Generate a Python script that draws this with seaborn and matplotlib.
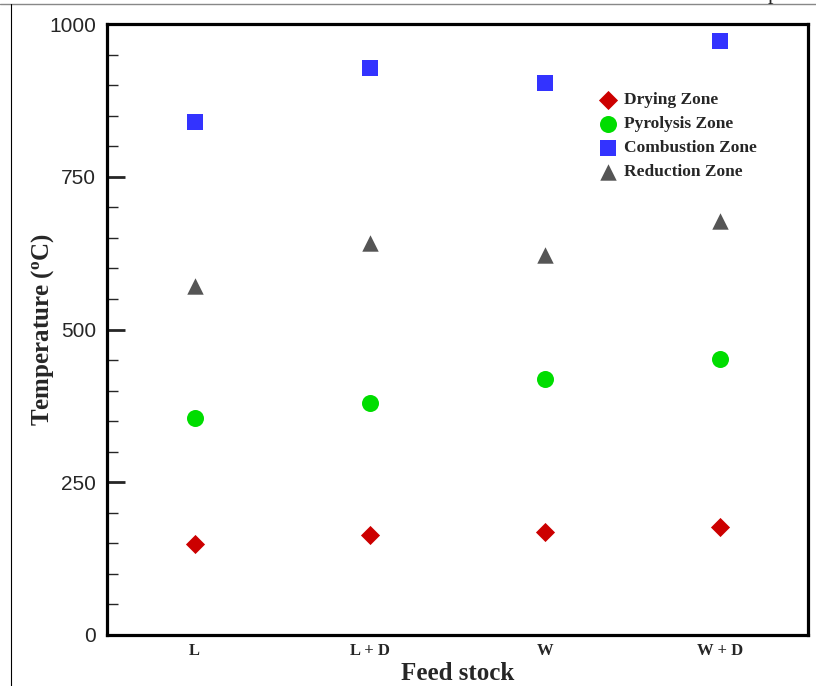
import pandas as pd
import matplotlib.pyplot as plt
import seaborn as sns
from matplotlib.ticker import MultipleLocator
from matplotlib.lines import Line2D

feedstock = ['L', 'L + D', 'W', 'W + D']
drying = [149, 164, 169, 177]
pyrolysis = [355, 380, 419, 452]
combustion = [840, 928, 903, 972]
reduction = [571, 641, 622, 678]

zones = ['Drying Zone', 'Pyrolysis Zone', 'Combustion Zone', 'Reduction Zone']

rows = []
for zone, vals in zip(zones, [drying, pyrolysis, combustion, reduction]):
    for f, v in zip(feedstock, vals):
        rows.append({'Feed stock': f, 'Temperature': v, 'Zone': zone})
df = pd.DataFrame(rows)

sns.set_style('white')
plt.rcParams['mathtext.fontset'] = 'custom'
plt.rcParams['mathtext.rm'] = 'Liberation Serif:bold'
plt.rcParams['mathtext.bf'] = 'Liberation Serif:bold'

palette = {'Drying Zone': '#cc0000', 'Pyrolysis Zone': '#00dd00',
           'Combustion Zone': '#3333ff', 'Reduction Zone': '#555555'}
markers = {'Drying Zone': 'D', 'Pyrolysis Zone': 'o',
           'Combustion Zone': 's', 'Reduction Zone': '^'}
sizes = {'Drying Zone': 95, 'Pyrolysis Zone': 150,
         'Combustion Zone': 125, 'Reduction Zone': 140}

fig = plt.figure(figsize=(8.16, 6.86), dpi=100)
ax = fig.add_axes([107/816, 1 - 635/686, (808-107)/816, (635-24)/686])

for zone in zones:
    sub = df[df['Zone'] == zone]
    sns.scatterplot(data=sub, x='Feed stock', y='Temperature', color=palette[zone],
                    marker=markers[zone], s=sizes[zone], linewidth=0, label=zone, ax=ax)

ax.set_xlim(-0.5, 3.5)
ax.set_ylim(0, 1000)
ax.yaxis.set_major_locator(MultipleLocator(250))
ax.yaxis.set_minor_locator(MultipleLocator(50))
ax.tick_params(axis='y', which='major', direction='in', length=13, width=2,
               labelsize=15, pad=8, left=True)
ax.tick_params(axis='y', which='minor', direction='in', length=8, width=1, left=True)
ax.tick_params(axis='x', which='both', length=0, pad=6)
for lab in ax.get_yticklabels():
    lab.set_fontfamily('Liberation Sans')
for lab in ax.get_xticklabels():
    lab.set_fontfamily('Liberation Serif')
    lab.set_fontweight('bold')
    lab.set_fontsize(12)
for sp in ax.spines.values():
    sp.set_linewidth(2.3)
    sp.set_color('black')

ax.set_xlabel('Feed stock', fontfamily='Liberation Serif', fontweight='bold', fontsize=18, labelpad=2)
ax.set_ylabel('Temperature ($\\mathregular{^o}$C)', fontfamily='Liberation Serif',
              fontweight='bold', fontsize=18, labelpad=-5)

leg = ax.legend(loc='upper left', bbox_to_anchor=(0.69, 0.9), frameon=False,
                prop={'family': 'Liberation Serif', 'weight': 'bold', 'size': 12.5},
                handlelength=1.2, handletextpad=0.3, labelspacing=0.45, borderaxespad=0)

# page artifacts of the cropped figure
fig.add_artist(Line2D([0, 1], [1 - 4/686, 1 - 4/686], transform=fig.transFigure, color='#888888', lw=1))
fig.add_artist(Line2D([11/816, 11/816], [0, 1 - 4/686], transform=fig.transFigure, color='black', lw=0.8))
fig.text(768/816, 1 - 4/686, 'p', fontfamily='Liberation Serif', fontsize=16, va='bottom')

fig.savefig('out.png', dpi=100)
